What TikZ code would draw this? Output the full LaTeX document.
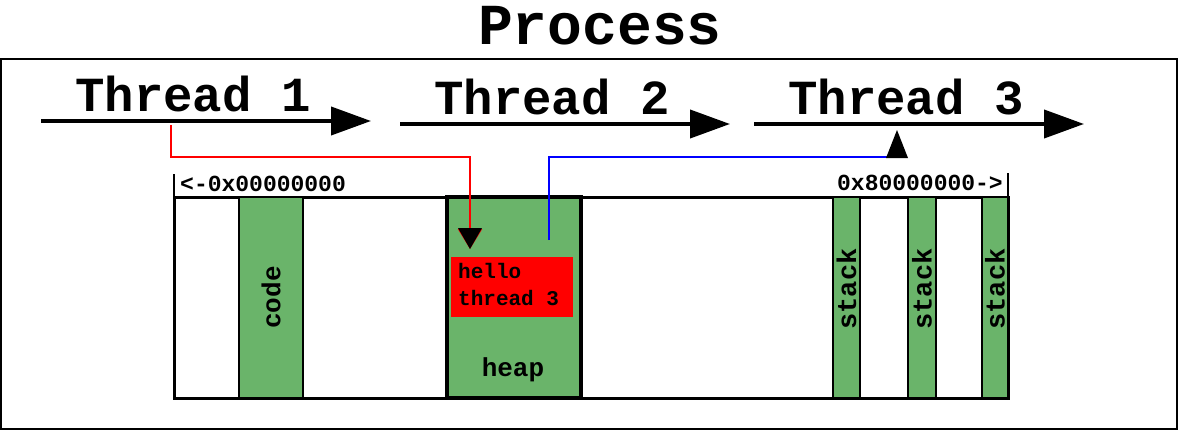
\documentclass[tikz,border=0pt]{standalone}
\usepackage{fontspec}
\setmainfont{Liberation Mono}
\usetikzlibrary{arrows.meta}
\definecolor{memgreen}{RGB}{106,180,106}
\begin{document}
\begin{tikzpicture}[x=1pt,y=-1pt,
  fs/.style={font=\fontsize{#1}{#1}\selectfont\bfseries},
  lbl/.style={inner sep=0pt, anchor=center},
  thr/.style={line width=4pt, -{Triangle[length=40pt,width=28pt]}},
  blk/.style={draw=black, line width=2pt, fill=memgreen, inner sep=0pt},
  ptr/.style={line width=2pt, -{Triangle[length=20pt,width=24pt]}}
]
\useasboundingbox (0,0) rectangle (1179,431);
\node[lbl, fs=58] (title) at (600,26) {Process};
\draw[line width=2pt] (1,59) rectangle (1177,429);
% threads
\coordinate (t1a) at (41,121); \coordinate (t1b) at (371,121);
\coordinate (t2a) at (400,124); \coordinate (t2b) at (730,124);
\coordinate (t3a) at (754,124); \coordinate (t3b) at (1084,124);
\draw[thr] (t1a) -- (t1b);
\draw[thr] (t2a) -- (t2b);
\draw[thr] (t3a) -- (t3b);
\node[lbl, fs=49] (th1) at (193,94) {Thread 1};
\node[lbl, fs=49] (th2) at (552,97) {Thread 2};
\node[lbl, fs=49] (th3) at (906,97) {Thread 3};
% memory bar
\draw[line width=3pt] (174,197) rectangle (1008,398);
\draw[line width=2pt] (174,174) -- (174,197);
\draw[line width=2pt] (1008,173) -- (1008,197);
\node[lbl, fs=23, anchor=west] (lo) at (180,184) {<-0x00000000};
\node[lbl, fs=23, anchor=east] (hi) at (1003,183) {0x80000000->};
% blocks
\node[blk, minimum width=64pt, minimum height=201pt] (code) at (271,297.5) {};
\node[lbl, fs=26, rotate=90] at (code.center) {code};
\node[blk, line width=4pt, minimum width=134pt, minimum height=201pt] (heap) at (514,297.5) {};
\node[draw=none, fill=red, inner sep=0pt, minimum width=122pt, minimum height=60pt] (msg) at (512,287) {};
\node[lbl, anchor=west, align=left, font=\fontsize{21}{27}\selectfont\bfseries] (msgtxt) at (458,285) {hello\\thread 3};
\node[lbl, fs=26] (heaplbl) at (513,370) {heap};
\node[blk, minimum width=27pt, minimum height=201pt] (s1) at (846.5,297.5) {};
\node[blk, minimum width=28pt, minimum height=201pt] (s2) at (922,297.5) {};
\node[blk, minimum width=26pt, minimum height=201pt] (s3) at (995,297.5) {};
\node[lbl, fs=27, rotate=90] at (s1.center |- 0,289) {stack};
\node[lbl, fs=27, rotate=90] at (s2.center |- 0,289) {stack};
\node[lbl, fs=27, rotate=90] at (s3.center |- 0,289) {stack};
% pointers
\coordinate (rs) at (171,125);
\coordinate (rt) at (470,249);
\draw[ptr, red] (rs) -- (171,157) -- (470,157) -- (rt);
\fill[black] (458,228) -- (482,228) -- (470,249) -- cycle;
\coordinate (bs) at (549,240);
\coordinate (bt) at (897,130);
\draw[line width=2pt, blue] (bs) -- (549,157) -- (888,157);
\fill[black] (886,158) -- (908,158) -- (897,130) -- cycle;
\end{tikzpicture}
\end{document}
